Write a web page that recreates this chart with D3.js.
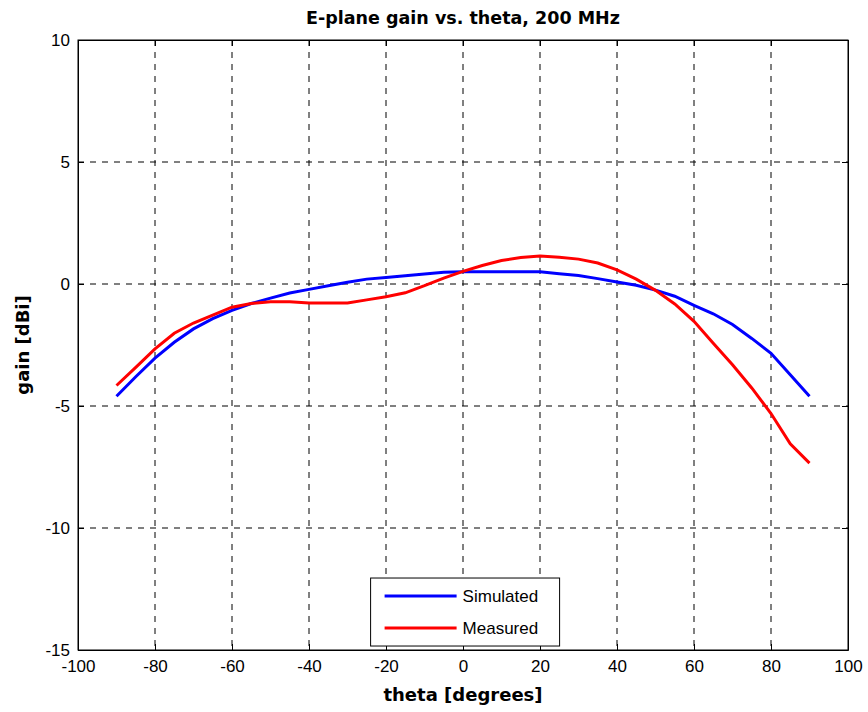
<!DOCTYPE html>
<html>
<head>
<meta charset="utf-8">
<script src="https://cdn.jsdelivr.net/npm/d3@7"></script>
<style>
  body { margin: 0; background: #fff; }
  svg { display: block; }
</style>
</head>
<body>
<div id="chart"></div>
<script>
// data
const theta = [-90, -85, -80, -75, -70, -65, -60, -55, -50, -45, -40, -35, -30, -25, -20, -15, -10, -5,
  0, 5, 10, 15, 20, 25, 30, 35, 40, 45, 50, 55, 60, 65, 70, 75, 80, 85, 90];
const simulated = [-4.6, -3.8, -3.04, -2.39, -1.84, -1.42, -1.08, -0.8, -0.58, -0.37, -0.22, -0.07, 0.07, 0.2, 0.27, 0.34, 0.41, 0.48,
  0.5, 0.5, 0.5, 0.5, 0.5, 0.42, 0.35, 0.22, 0.08, -0.05, -0.25, -0.5, -0.88, -1.22, -1.66, -2.23, -2.84, -3.72, -4.6];
const measured = [-4.16, -3.42, -2.66, -2.02, -1.6, -1.28, -0.95, -0.8, -0.73, -0.73, -0.78, -0.78, -0.78, -0.65, -0.52, -0.36, -0.07, 0.24,
  0.52, 0.76, 0.96, 1.09, 1.15, 1.1, 1.02, 0.86, 0.58, 0.2, -0.26, -0.82, -1.53, -2.43, -3.31, -4.26, -5.31, -6.55, -7.34];
const xTicks = [-100, -80, -60, -40, -20, 0, 20, 40, 60, 80, 100];
const yTicks = [-15, -10, -5, 0, 5, 10];
const seriesNames = ['Simulated', 'Measured'];
const seriesColors = ['#0000ff', '#ff0000'];

const width = 868, height = 712;
const margin = { top: 40, right: 20, bottom: 62, left: 78 };
const plotW = width - margin.left - margin.right;
const plotH = height - margin.top - margin.bottom;

const svg = d3.select('#chart').append('svg')
  .attr('width', width)
  .attr('height', height);

const x = d3.scaleLinear().domain([-100, 100]).range([0, plotW]);
const y = d3.scaleLinear().domain([-15, 10]).range([plotH, 0]);

const g = svg.append('g').attr('transform', `translate(${margin.left},${margin.top})`);

// grid
g.selectAll('.vgrid')
  .data(xTicks.slice(1, -1))
  .enter().append('line')
  .attr('x1', d => x(d)).attr('x2', d => x(d))
  .attr('y1', 0).attr('y2', plotH)
  .attr('stroke', '#000').attr('stroke-width', 1)
  .attr('stroke-dasharray', '6,6');

g.selectAll('.hgrid')
  .data(yTicks.slice(1, -1))
  .enter().append('line')
  .attr('x1', 0).attr('x2', plotW)
  .attr('y1', d => y(d)).attr('y2', d => y(d))
  .attr('stroke', '#000').attr('stroke-width', 1)
  .attr('stroke-dasharray', '6,6');

// axes, ticks pointing inward; plain hyphen for negatives
const tickFont = '"Liberation Sans", Arial, sans-serif';
const fmt = d => String(d);
g.append('g').attr('transform', `translate(0,${plotH})`)
  .call(d3.axisBottom(x).tickValues(xTicks).tickFormat(fmt).tickSizeInner(-6).tickSizeOuter(0).tickPadding(10));
g.append('g')
  .call(d3.axisLeft(y).tickValues(yTicks).tickFormat(fmt).tickSizeInner(-6).tickSizeOuter(0).tickPadding(8));
g.append('g')
  .call(d3.axisTop(x).tickValues(xTicks).tickSizeInner(-6).tickSizeOuter(0).tickFormat(''));
g.append('g').attr('transform', `translate(${plotW},0)`)
  .call(d3.axisRight(y).tickValues(yTicks).tickSizeInner(-6).tickSizeOuter(0).tickFormat(''));

g.selectAll('.domain').attr('stroke', '#000');
g.selectAll('.tick line').attr('stroke', '#000');
g.selectAll('.tick text')
  .attr('font-family', tickFont)
  .attr('font-size', 17)
  .attr('fill', '#000');

// box
g.append('rect')
  .attr('width', plotW).attr('height', plotH)
  .attr('fill', 'none').attr('stroke', '#000').attr('stroke-width', 1);

// lines
const line = d3.line()
  .x((d, i) => x(theta[i]))
  .y(d => y(d));

[simulated, measured].forEach((s, k) => {
  g.append('path')
    .datum(s)
    .attr('d', line)
    .attr('fill', 'none')
    .attr('stroke', seriesColors[k])
    .attr('stroke-width', 3);
});

// legend
const leg = g.append('g').attr('transform', `translate(${x(-24)},${y(-12.05)})`);
leg.append('rect')
  .attr('width', 189).attr('height', 68)
  .attr('fill', '#fff').attr('stroke', '#000').attr('stroke-width', 1);
seriesNames.forEach((name, k) => {
  const yy = 18 + k * 32;
  leg.append('line')
    .attr('x1', 14).attr('x2', 86)
    .attr('y1', yy).attr('y2', yy)
    .attr('stroke', seriesColors[k]).attr('stroke-width', 3);
  leg.append('text')
    .attr('x', 92).attr('y', yy)
    .attr('dominant-baseline', 'central')
    .attr('font-family', tickFont)
    .attr('font-size', 17)
    .text(name);
});

// title and labels
const boldFont = '"DejaVu Sans", Verdana, sans-serif';
svg.append('text')
  .attr('x', margin.left + plotW / 2).attr('y', 24)
  .attr('text-anchor', 'middle')
  .attr('font-family', boldFont)
  .attr('font-weight', 'bold')
  .attr('font-size', 17.5)
  .text('E-plane gain vs. theta, 200 MHz');

svg.append('text')
  .attr('x', margin.left + plotW / 2).attr('y', 701)
  .attr('text-anchor', 'middle')
  .attr('font-family', boldFont)
  .attr('font-weight', 'bold')
  .attr('font-size', 18)
  .text('theta [degrees]');

svg.append('text')
  .attr('transform', `translate(29,${margin.top + plotH / 2}) rotate(-90)`)
  .attr('text-anchor', 'middle')
  .attr('font-family', boldFont)
  .attr('font-weight', 'bold')
  .attr('font-size', 18)
  .text('gain [dBi]');
</script>
</body>
</html>
